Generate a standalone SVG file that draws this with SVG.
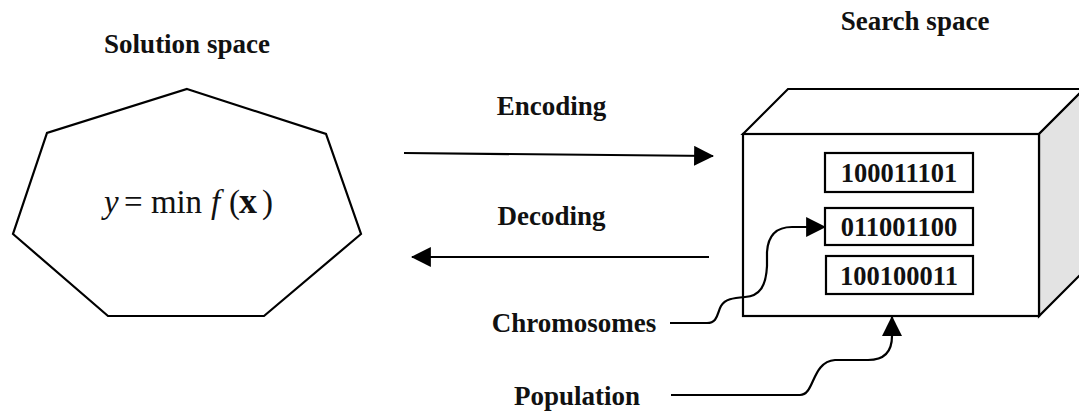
<svg xmlns="http://www.w3.org/2000/svg" width="1079" height="413" viewBox="0 0 1079 413">
<defs>
<style>
.lbl{font-family:"Liberation Serif",serif;font-weight:bold;font-size:27px;fill:#111;text-anchor:middle}
.num{font-family:"Liberation Serif",serif;font-weight:bold;font-size:26.5px;fill:#111;text-anchor:middle}
.shape{fill:#fff;stroke:#000;stroke-width:2.2;stroke-linejoin:miter}
.conn{fill:none;stroke:#000;stroke-width:2.2}
.fx{font-family:"Liberation Serif",serif;font-size:33px;fill:#111}
</style>
<marker id="ah" markerUnits="userSpaceOnUse" markerWidth="20" markerHeight="20" viewBox="0 0 18 18" refX="17" refY="9" orient="auto">
<path d="M0,0 L18,9 L0,18 Z" fill="#000"/>
</marker>
</defs>
<rect width="1079" height="413" fill="#fff"/>

<g id="solution-space">
<text class="lbl" x="187" y="53">Solution space</text>
<polygon class="shape" points="187,89 326,134 361,234 264,316 108,316 13,234 47,133"/>
<text class="fx" y="213"><tspan x="104" font-style="italic">y</tspan><tspan x="124">=</tspan><tspan x="151" textLength="51">min</tspan><tspan x="211" font-style="italic">f</tspan><tspan x="229">(</tspan><tspan x="239" font-weight="bold" font-size="36">x</tspan><tspan x="262">)</tspan></text>
</g>

<g id="search-space">
<text class="lbl" x="915" y="30">Search space</text>
<polygon class="shape" points="743,134 788,89 1084,89 1039,134"/>
<polygon class="shape" points="1039,134 1084,89 1084,271 1039,316" style="fill:#e3e3e3"/>
<rect class="shape" x="743" y="134" width="296" height="182"/>
</g>

<g id="chromosome-1">
<rect class="shape" x="825" y="153" width="148" height="39"/>
<text class="num" x="899" y="182">100011101</text>
</g>
<g id="chromosome-2">
<rect class="shape" x="825" y="208" width="148" height="37"/>
<text class="num" x="899" y="236">011001100</text>
</g>
<g id="chromosome-3">
<rect class="shape" x="826" y="256" width="147" height="38"/>
<text class="num" x="899" y="285">100100011</text>
</g>

<g id="labels">
<text class="lbl" x="551.5" y="115">Encoding</text>
<text class="lbl" x="551.5" y="225">Decoding</text>
<text class="lbl" x="574" y="332">Chromosomes</text>
<text class="lbl" x="577" y="405">Population</text>
</g>

<g id="connectors">
<path class="conn" d="M404,153 L713,156" marker-end="url(#ah)"/>
<path class="conn" d="M709,257 L412,257" marker-end="url(#ah)"/>
<path class="conn" d="M670,323 L707,323 C718,323 717,313 721,306 C725,299 733,298 745,297 C760,296 766,286 767,266 L767,252 C768,236 776,227 792,227 L825,227" marker-end="url(#ah)"/>
<path class="conn" d="M671,395 L800,395 C815,395 811,362 835,360 L868,360 C886,360 892,350 892,336 L892,317" marker-end="url(#ah)"/>
</g>
</svg>
